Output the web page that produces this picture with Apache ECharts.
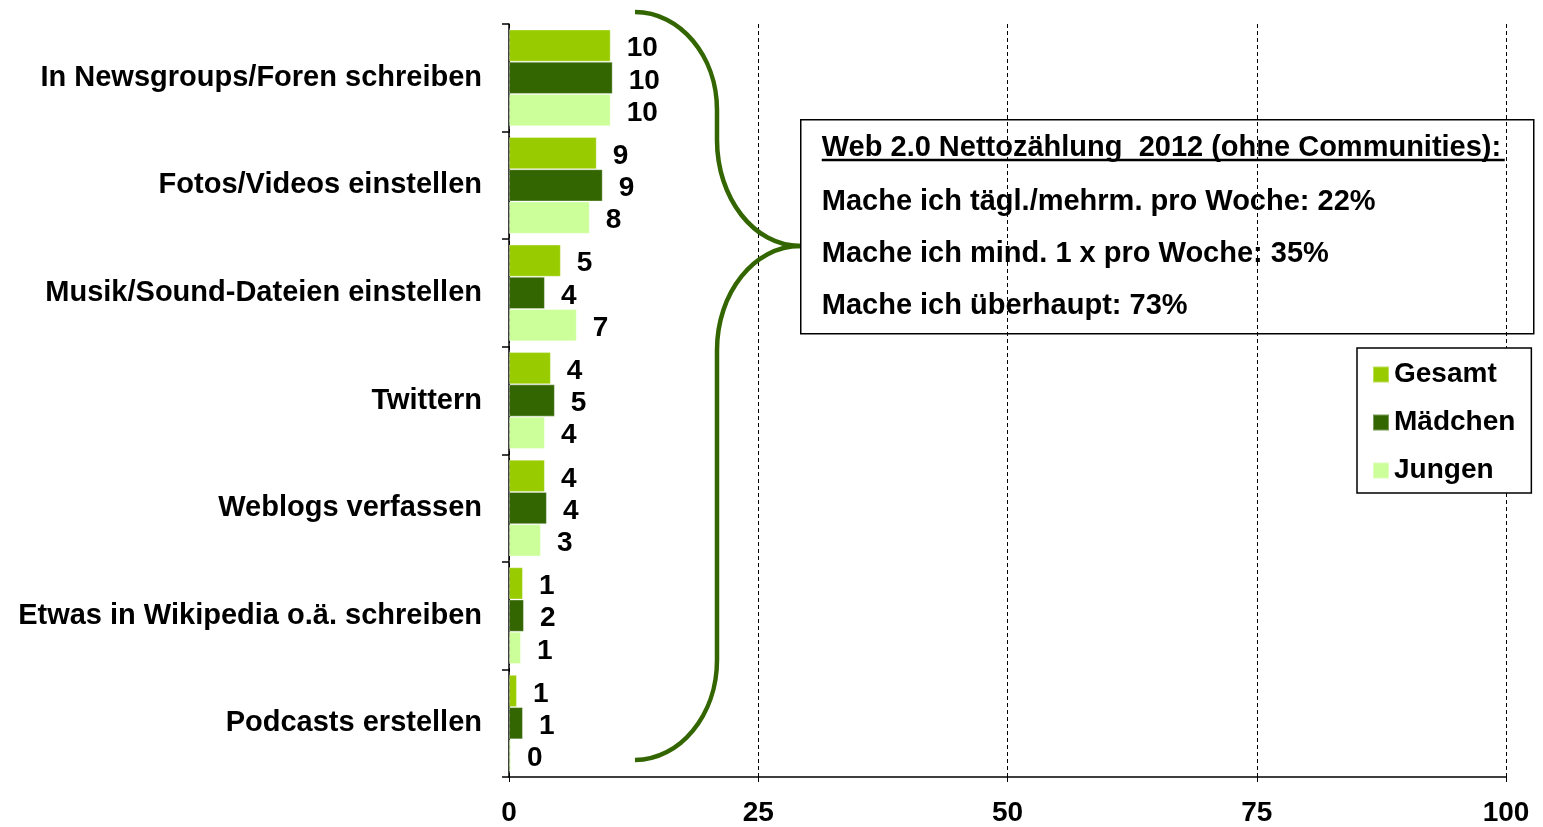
<!DOCTYPE html>
<html>
<head>
<meta charset="utf-8">
<script src="https://cdn.jsdelivr.net/npm/echarts@6/dist/echarts.min.js"></script>
<style>
html, body { margin: 0; padding: 0; background: #fff; }
#chart { width: 1543px; height: 827px; }
</style>
</head>
<body>
<div id="chart"></div>
<script>
var categories = ['In Newsgroups/Foren schreiben', 'Fotos/Videos einstellen', 'Musik/Sound-Dateien einstellen',
    'Twittern', 'Weblogs verfassen', 'Etwas in Wikipedia o.ä. schreiben', 'Podcasts erstellen'];
var gesamt = [10.2, 8.8, 5.2, 4.2, 3.6, 1.4, 0.8];
var maedchen = [10.4, 9.4, 3.6, 4.6, 3.8, 1.5, 1.4];
var jungen = [10.2, 8.1, 6.8, 3.6, 3.2, 1.2, 0.2];
var xTicks = [0, 25, 50, 75, 100];
var boxTitle = 'Web 2.0 Nettozählung  2012 (ohne Communities):';
var boxLines = ['Mache ich tägl./mehrm. pro Woche: 22%', 'Mache ich mind. 1 x pro Woche: 35%', 'Mache ich überhaupt: 73%'];

var fontName = '"Liberation Sans", Arial, sans-serif';
var braceStyle = { fill: null, stroke: '#336600', lineWidth: 4.5 };
var chart = echarts.init(document.getElementById('chart'));

function makeSeries(name, data, color) {
    return {
        name: name,
        type: 'bar',
        data: data,
        barGap: '0%',
        barCategoryGap: '10%',
        itemStyle: {
            color: color,
            borderColor: 'rgba(255,255,255,0.35)',
            borderWidth: 1
        },
        label: {
            show: true,
            position: 'right',
            distance: 16,
            offset: [0, 3],
            color: '#000',
            fontFamily: fontName,
            fontWeight: 'bold',
            fontSize: 28,
            formatter: function(p) { return Math.round(p.value); }
        }
    };
}

// curly brace pieces
function curve(x1, y1, c1x, c1y, c2x, c2y, x2, y2) {
    return {
        type: 'bezierCurve', z: 10,
        shape: { x1: x1, y1: y1, cpx1: c1x, cpy1: c1y, cpx2: c2x, cpy2: c2y, x2: x2, y2: y2 },
        style: braceStyle
    };
}
function straight(x1, y1, x2, y2) {
    return {
        type: 'line', z: 10,
        shape: { x1: x1, y1: y1, x2: x2, y2: y2 },
        style: braceStyle
    };
}
function boxText(txt, y) {
    return {
        type: 'text',
        x: 21, y: y,
        style: { text: txt, fill: '#000', font: 'bold 29px ' + fontName, verticalAlign: 'middle' }
    };
}

chart.setOption({
    animation: false,
    backgroundColor: '#fff',
    grid: { left: 509, right: 37, top: 24, bottom: 50 },
    legend: {
        orient: 'vertical',
        left: 1357,
        top: 348,
        padding: [12, 16, 8, 15],
        itemGap: 19,
        itemWidth: 16,
        itemHeight: 16,
        icon: 'rect',
        backgroundColor: '#fff',
        borderColor: '#000',
        borderWidth: 1.5,
        borderRadius: 0,
        textStyle: { color: '#000', fontFamily: fontName, fontWeight: 'bold', fontSize: 28, lineHeight: 29 },
        data: ['Gesamt', 'Mädchen', 'Jungen']
    },
    xAxis: {
        type: 'value',
        min: xTicks[0],
        max: xTicks[xTicks.length - 1],
        interval: 25,
        axisLine: { show: true, lineStyle: { color: '#000', width: 1.5 } },
        axisTick: { show: true, length: 5, lineStyle: { color: '#000' } },
        axisLabel: { color: '#000', fontFamily: fontName, fontWeight: 'bold', fontSize: 28, margin: 22 },
        splitLine: { show: true, lineStyle: { color: '#000', type: [4, 3], width: 1 } }
    },
    yAxis: {
        type: 'category',
        inverse: true,
        data: categories,
        axisLine: { show: true, lineStyle: { color: '#000', width: 1.5 } },
        axisTick: { show: true, length: 7, lineStyle: { color: '#000', width: 1.5 } },
        axisLabel: { color: '#000', fontFamily: fontName, fontWeight: 'bold', fontSize: 29, margin: 27,
            lineHeight: 36, verticalAlign: 'middle', padding: [5, 0, 0, 0] }
    },
    series: [
        makeSeries('Gesamt', gesamt, '#99cc00'),
        makeSeries('Mädchen', maedchen, '#336600'),
        makeSeries('Jungen', jungen, '#ccff99')
    ],
    graphic: [
        curve(635, 12, 680, 12, 717, 56, 717, 110),
        straight(717, 110, 717, 140),
        curve(717, 140, 717, 198, 754, 246, 800, 246),
        curve(800, 246, 754, 246, 717, 293, 717, 350),
        straight(717, 350, 717, 660),
        curve(717, 660, 717, 715, 680, 760, 635, 760),
        // note box
        {
            type: 'group',
            left: 800,
            top: 119,
            z: 20,
            children: [
                {
                    type: 'rect',
                    shape: { x: 0, y: 0, width: 733, height: 214 },
                    style: { fill: '#fff', stroke: '#000', lineWidth: 1.5 }
                },
                boxText(boxTitle, 28),
                {
                    type: 'rect',
                    shape: { x: 21, y: 39, width: 683, height: 2.5 },
                    style: { fill: '#000' }
                },
                boxText(boxLines[0], 82),
                boxText(boxLines[1], 134),
                boxText(boxLines[2], 186)
            ]
        }
    ]
});
</script>
</body>
</html>
